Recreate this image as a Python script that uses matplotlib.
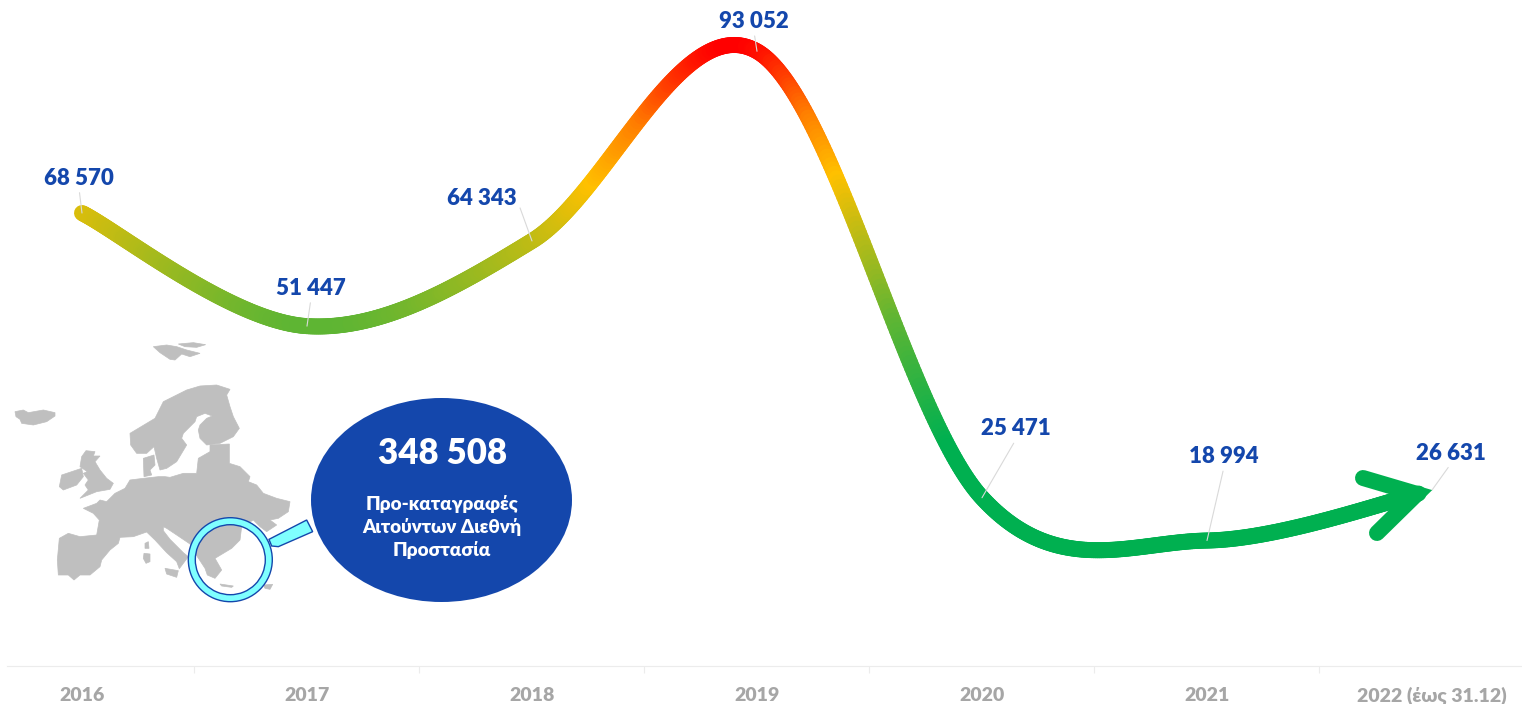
import matplotlib
matplotlib.use("Agg")
import matplotlib.pyplot as plt
import numpy as np
from matplotlib.bezier import BezierSegment
from matplotlib.collections import LineCollection
from matplotlib.colors import LinearSegmentedColormap
from matplotlib.patches import Ellipse, Polygon, Wedge

plt.rcParams['font.family'] = ['Lato', 'DejaVu Sans']

years = ['2016', '2017', '2018', '2019', '2020', '2021', '2022 (έως 31.12)']
applications = [68570, 51447, 64343, 93052, 25471, 18994, 26631]
value_labels = ['68 570', '51 447', '64 343', '93 052', '25 471', '18 994', '26 631']

total_label = '348 508'
total_text = 'Προ-καταγραφές\nΑιτούντων Διεθνή\nΠροστασία'

# label offset from its point (pixels, y up) and where the leader leaves the text
label_offsets = [(-3, 35), (4, 38), (-50, 42), (-3, 30), (34, 69), (17, 84), (19, 37)]
leader_rel = [(0.5, 0), (0.5, 0), (1, 0.5), (0.5, 0), (0.5, 0), (0.5, 0), (0.5, 0)]

grad_values = [94000, 82800, 73600, 51600, 33000]
grad_colors = ['#ff0000', '#ff7f00', '#ffc000', '#5fb533', '#00b050']

BLUE = '#1447ac'
GREEN = '#00b050'
GREY_MAP = '#bfbfbf'

# map outlines, in reference pixels of the 3x crop at (0, 330)
map_shapes = [
    [(45, 245), (70, 240), (85, 248), (130, 240), (165, 248), (165, 258), (140, 275), (100, 285), (65, 280), (60, 268), (48, 260)],
    [(460, 50), (500, 45), (530, 50), (560, 60), (600, 70), (570, 80), (545, 72), (525, 90), (510, 88), (480, 68)],
    [(535, 42), (580, 38), (617, 44), (590, 52), (555, 50)],
    [(390, 310), (440, 280), (465, 265), (490, 215), (530, 195), (560, 180), (600, 168), (650, 165), (690, 178), (680, 195),
     (690, 230), (700, 260), (718, 295), (700, 320), (660, 340), (620, 345), (600, 325), (595, 300), (600, 285), (620, 265),
     (637, 258), (615, 250), (590, 260), (585, 275), (550, 310), (545, 325), (560, 345), (545, 370), (530, 395), (500, 415),
     (480, 420), (470, 385), (462, 350), (440, 370), (410, 370), (392, 345)],
    [(430, 385), (462, 375), (465, 405), (450, 420), (455, 435), (432, 440)],
    [(250, 535), (290, 520), (300, 510), (320, 515), (345, 490), (375, 475), (390, 450), (430, 445), (475, 440), (495, 440),
     (510, 442), (550, 430), (590, 430), (595, 385), (630, 365), (630, 345), (688, 342), (688, 400), (720, 410), (750, 440),
     (745, 455), (770, 465), (790, 490), (830, 505), (870, 515), (865, 545), (835, 565), (810, 570), (830, 585), (800, 605),
     (780, 590), (760, 570), (725, 590), (720, 630), (695, 655), (645, 685), (665, 720), (645, 745), (622, 735), (615, 715),
     (592, 680), (570, 642), (530, 615), (500, 595), (490, 590), (490, 602), (510, 628), (550, 668), (565, 680), (550, 700),
     (538, 716), (530, 695), (500, 668), (465, 630), (440, 606), (400, 620), (360, 622), (355, 640), (330, 660), (305, 690),
     (300, 710), (270, 735), (240, 735), (222, 750), (205, 735), (175, 735), (172, 690), (178, 625), (205, 610), (240, 620),
     (290, 615), (298, 570), (280, 550)],
    [(495, 715), (535, 722), (530, 742), (500, 732)],
    [(432, 670), (450, 672), (450, 695), (438, 700), (430, 685)],
    [(435, 640), (445, 635), (447, 655), (435, 655)],
    [(245, 380), (258, 362), (285, 365), (280, 378), (300, 378), (285, 395), (300, 420), (320, 445), (340, 460), (330, 478),
     (290, 485), (240, 505), (265, 480), (255, 465), (265, 450), (250, 430), (262, 425), (240, 410)],
    [(185, 435), (215, 425), (245, 415), (250, 440), (230, 465), (190, 480), (178, 470)],
    [(660, 762), (700, 768), (695, 772), (665, 768)],
    [(790, 765), (818, 763), (810, 778), (795, 775)],
]
handle_shape = [(807, 628), (920, 570), (938, 605), (835, 650), (815, 648)]


def crop_to_px(shape):
    return [(x / 3, y / 3 + 330) for x, y in shape]


# Excel style smoothed line: Catmull-Rom tangents turned into cubic beziers
def smooth_curve(xs, ys, steps=120):
    pts = np.column_stack([xs, ys]).astype(float)
    out = []
    for i in range(len(pts) - 1):
        before = pts[max(i - 1, 0)]
        after = pts[min(i + 2, len(pts) - 1)]
        c1 = pts[i] + (pts[i + 1] - before) / 6
        c2 = pts[i + 1] - (after - pts[i]) / 6
        seg = BezierSegment(np.array([pts[i], c1, c2, pts[i + 1]]))
        out.append(seg.point_at_t(np.linspace(0, 1, steps)))
    return np.vstack(out)


fig = plt.figure(figsize=(15.22, 7.04), dpi=100)
ax = fig.add_axes([0, 0, 1, 1])
ax.set_xlim(-0.3644, 6.4)
ax.set_ylim(-5752, 100817)
ax.patch.set_visible(False)

for side in ['left', 'right', 'top']:
    ax.spines[side].set_visible(False)
ax.spines['bottom'].set_position(('data', 0))
ax.spines['bottom'].set_bounds(-0.333, 6.4)
ax.spines['bottom'].set_color('#ececec')
ax.spines['bottom'].set_linewidth(0.8)
ax.set_yticks([])

ax.set_xticks(range(len(years)), labels=years)
ax.set_xticks(np.arange(0.5, 6), minor=True)
ax.tick_params(axis='x', which='major', length=0, pad=15, labelsize=14, labelcolor='#a6a6a6')
ax.tick_params(axis='x', which='minor', length=5, width=0.8, color='#ececec')
for lab in ax.get_xticklabels():
    lab.set_fontweight('heavy')

# gradient coloured line
curve = smooth_curve(range(len(applications)), applications)
curve = curve[curve[:, 0] <= 5.94]
segs = np.stack([curve[:-1], curve[1:]], axis=1)
stops = (np.array(grad_values) - min(grad_values)) / (max(grad_values) - min(grad_values))
cmap = LinearSegmentedColormap.from_list('trend', list(zip(stops[::-1], grad_colors[::-1])))
lc = LineCollection(segs, cmap=cmap, linewidths=11.5, capstyle='round', zorder=3)
lc.set_array((curve[:-1, 1] + curve[1:, 1]) / 2)
lc.set_clim(min(grad_values), max(grad_values))
ax.add_collection(lc)

# value labels with thin leaders
for i, val in enumerate(applications):
    ax.annotate(value_labels[i], xy=(i, val), xytext=label_offsets[i], textcoords='offset pixels',
                ha='center', va='center', fontsize=16, fontweight='heavy', color=BLUE, zorder=5,
                arrowprops=dict(arrowstyle='-', color='#d9d9d9', lw=0.8, shrinkA=1, shrinkB=0,
                                relpos=leader_rel[i], zorder=4))

# everything else is placed in pixels on a second axes
deco = fig.add_axes([0, 0, 1, 1])
deco.set_xlim(0, 1522)
deco.set_ylim(704, 0)
deco.axis('off')

# arrow head on the last point
deco.plot([1363, 1416.9, 1377], [478, 493.9, 533], color=GREEN, lw=11.5,
          solid_joinstyle='miter', solid_capstyle='round', zorder=3)

for shape in map_shapes:
    deco.add_patch(Polygon(crop_to_px(shape), closed=True, fc=GREY_MAP, ec=GREY_MAP, lw=0.5, zorder=1))

deco.add_patch(Polygon(crop_to_px(handle_shape), closed=True, fc='#7fffff', ec=BLUE, lw=1, zorder=2))
deco.add_patch(Wedge((230.3, 559.7), 42, 0, 360, width=7, fc='#7fffff', ec=BLUE, lw=1, zorder=2))

deco.add_patch(Ellipse((441.5, 500), 261, 204, fc=BLUE, ec='none', zorder=3))
deco.text(443, 453, total_label, ha='center', va='center', color='white', fontsize=25,
          fontweight='heavy', zorder=4)
deco.text(442, 527, total_text, ha='center', va='center', color='white', fontsize=13.5,
          fontweight='heavy', linespacing=1.35, zorder=4)

fig.savefig('out.png', dpi=100)
